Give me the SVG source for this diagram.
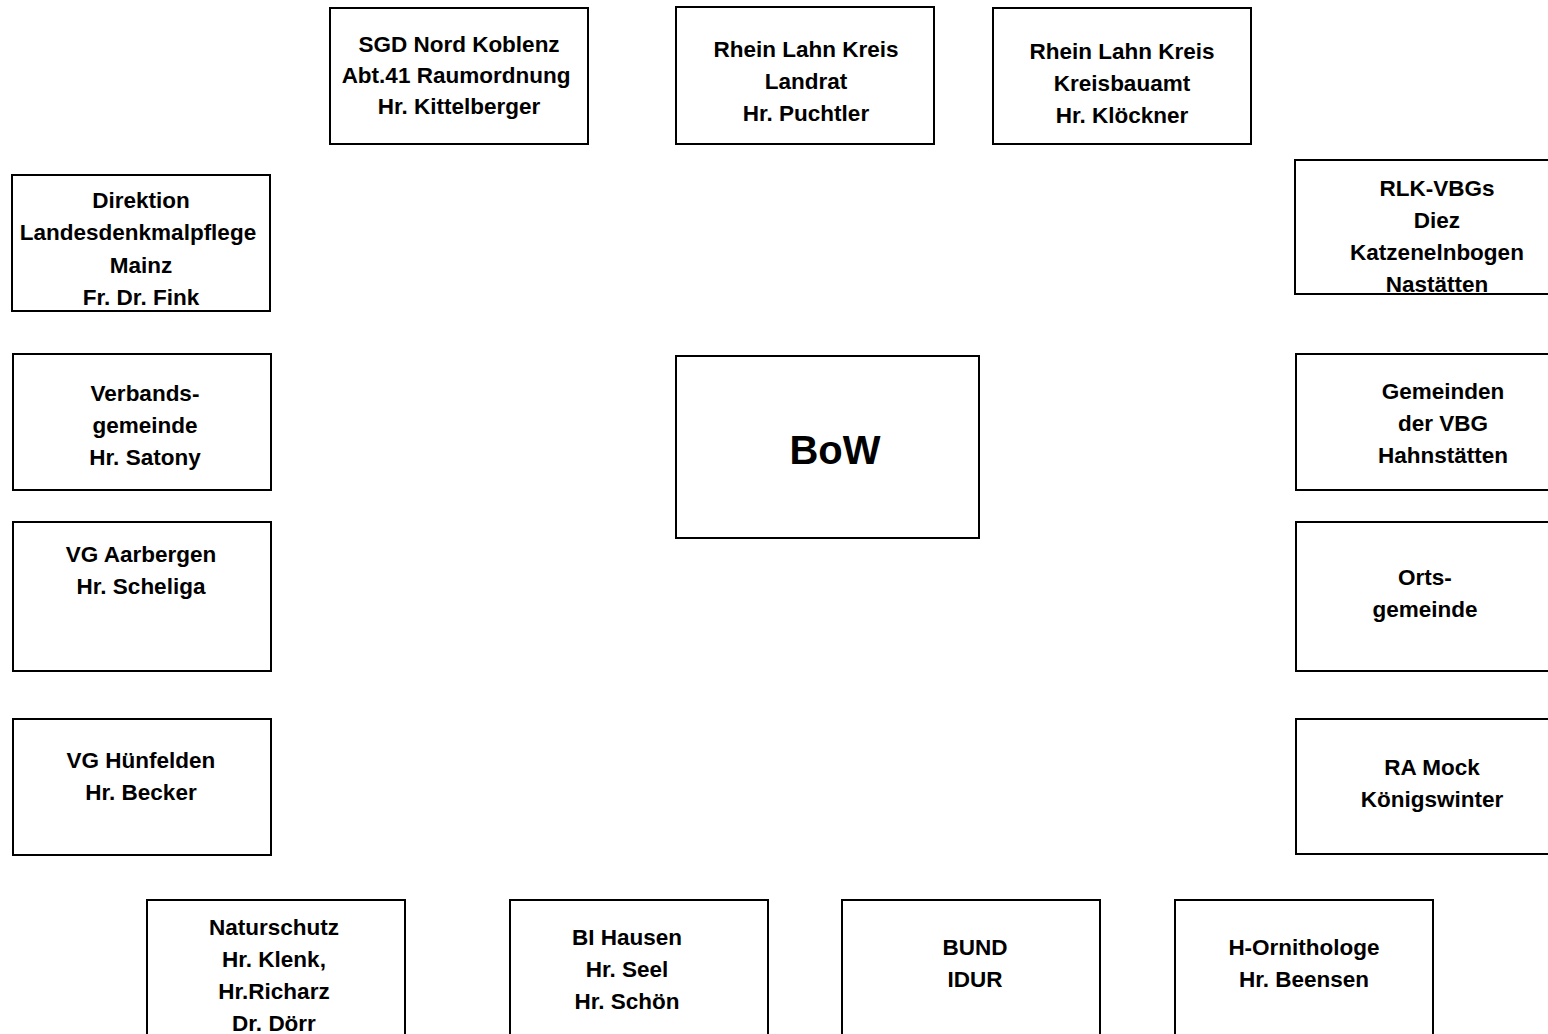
<svg xmlns="http://www.w3.org/2000/svg" width="1548" height="1034" viewBox="0 0 1548 1034">
<style>
.b{fill:#fff;stroke:#000;stroke-width:2}
.t{font-family:"Liberation Sans",Arial,sans-serif;font-weight:bold;font-size:22.5px;fill:#000;text-anchor:middle}
.big{font-size:40px}
</style>
<rect width="1548" height="1034" fill="#fff"/>
<g id="connectors"></g>
<g id="sgd"><rect class="b" x="330" y="8" width="258" height="136"/>
<text class="t" x="459" y="52">SGD Nord Koblenz</text><text class="t" x="456" y="83">Abt.41 Raumordnung</text><text class="t" x="459" y="114">Hr. Kittelberger</text></g>
<g id="landrat"><rect class="b" x="676" y="7" width="258" height="137"/>
<text class="t" x="806" y="57">Rhein Lahn Kreis</text><text class="t" x="806" y="89">Landrat</text><text class="t" x="806" y="121">Hr. Puchtler</text></g>
<g id="kreisbauamt"><rect class="b" x="993" y="8" width="258" height="136"/>
<text class="t" x="1122" y="59">Rhein Lahn Kreis</text><text class="t" x="1122" y="91">Kreisbauamt</text><text class="t" x="1122" y="123">Hr. Klöckner</text></g>
<g id="direktion"><rect class="b" x="12" y="175" width="258" height="136"/>
<text class="t" x="141" y="208">Direktion</text><text class="t" x="138" y="240">Landesdenkmalpflege</text><text class="t" x="141" y="273">Mainz</text><text class="t" x="141" y="305">Fr. Dr. Fink</text></g>
<g id="rlkvbgs"><rect class="b" x="1295" y="160" width="270" height="134"/>
<text class="t" x="1437" y="196">RLK-VBGs</text><text class="t" x="1437" y="228">Diez</text><text class="t" x="1437" y="260">Katzenelnbogen</text><text class="t" x="1437" y="292">Nastätten</text></g>
<g id="verbandsgemeinde"><rect class="b" x="13" y="354" width="258" height="136"/>
<text class="t" x="145" y="401">Verbands-</text><text class="t" x="145" y="433">gemeinde</text><text class="t" x="145" y="465">Hr. Satony</text></g>
<g id="bow"><rect class="b" x="676" y="356" width="303" height="182"/>
<text class="t big" x="835" y="464">BoW</text></g>
<g id="gemeinden"><rect class="b" x="1296" y="354" width="270" height="136"/>
<text class="t" x="1443" y="399">Gemeinden</text><text class="t" x="1443" y="431">der VBG</text><text class="t" x="1443" y="463">Hahnstätten</text></g>
<g id="aarbergen"><rect class="b" x="13" y="522" width="258" height="149"/>
<text class="t" x="141" y="562">VG Aarbergen</text><text class="t" x="141" y="594">Hr. Scheliga</text></g>
<g id="ortsgemeinde"><rect class="b" x="1296" y="522" width="270" height="149"/>
<text class="t" x="1425" y="585">Orts-</text><text class="t" x="1425" y="617">gemeinde</text></g>
<g id="huenfelden"><rect class="b" x="13" y="719" width="258" height="136"/>
<text class="t" x="141" y="768">VG Hünfelden</text><text class="t" x="141" y="800">Hr. Becker</text></g>
<g id="ramock"><rect class="b" x="1296" y="719" width="270" height="135"/>
<text class="t" x="1432" y="775">RA Mock</text><text class="t" x="1432" y="807">Königswinter</text></g>
<g id="naturschutz"><rect class="b" x="147" y="900" width="258" height="150"/>
<text class="t" x="274" y="935">Naturschutz</text><text class="t" x="274" y="967">Hr. Klenk,</text><text class="t" x="274" y="999">Hr.Richarz</text><text class="t" x="274" y="1031">Dr. Dörr</text></g>
<g id="bihausen"><rect class="b" x="510" y="900" width="258" height="150"/>
<text class="t" x="627" y="945">BI Hausen</text><text class="t" x="627" y="977">Hr. Seel</text><text class="t" x="627" y="1009">Hr. Schön</text></g>
<g id="bund"><rect class="b" x="842" y="900" width="258" height="150"/>
<text class="t" x="975" y="955">BUND</text><text class="t" x="975" y="987">IDUR</text></g>
<g id="ornithologe"><rect class="b" x="1175" y="900" width="258" height="150"/>
<text class="t" x="1304" y="955">H-Ornithologe</text><text class="t" x="1304" y="987">Hr. Beensen</text></g>
</svg>
